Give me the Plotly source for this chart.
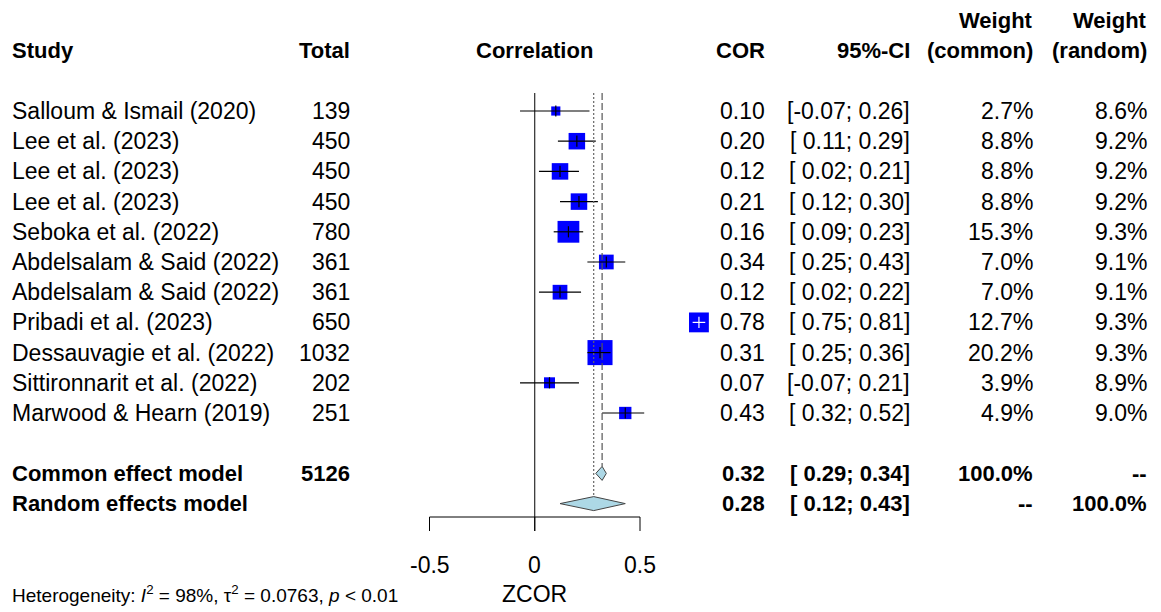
import plotly.graph_objects as go
import math

# ---------------- data ----------------
studies = ["Salloum & Ismail (2020)", "Lee et al. (2023)", "Lee et al. (2023)", "Lee et al. (2023)",
           "Seboka et al. (2022)", "Abdelsalam & Said (2022)", "Abdelsalam & Said (2022)",
           "Pribadi et al. (2023)", "Dessauvagie et al. (2022)", "Sittironnarit et al. (2022)",
           "Marwood & Hearn (2019)"]
totals = [139, 450, 450, 450, 780, 361, 361, 650, 1032, 202, 251]
cor = [0.10, 0.20, 0.12, 0.21, 0.16, 0.34, 0.12, 0.78, 0.31, 0.07, 0.43]
ci_lo = [-0.07, 0.11, 0.02, 0.12, 0.09, 0.25, 0.02, 0.75, 0.25, -0.07, 0.32]
ci_hi = [0.26, 0.29, 0.21, 0.30, 0.23, 0.43, 0.22, 0.81, 0.36, 0.21, 0.52]
w_common = [2.7, 8.8, 8.8, 8.8, 15.3, 7.0, 7.0, 12.7, 20.2, 3.9, 4.9]
w_random = [8.6, 9.2, 9.2, 9.2, 9.3, 9.1, 9.1, 9.3, 9.3, 8.9, 9.0]

common_est, common_lo, common_hi = 0.32, 0.29, 0.34
random_est, random_lo, random_hi = 0.28, 0.12, 0.43
total_n = 5126
tick_vals = [-0.5, 0, 0.5]
tick_text = ["-0.5", "0", "0.5"]

# ---------------- layout constants ----------------
W, H = 1161, 612
X0_PX, SCALE = 534.75, 210.5          # pixel of x=0, pixels per unit
XMIN = -X0_PX / SCALE
XMAX = (W - X0_PX) / SCALE
ROW0, ROWH = 111, 30.2
def row_y(i):
    return ROW0 + ROWH * i
Y_COMMON = row_y(12)
Y_RANDOM = row_y(13)
Y_AXIS = 517
Y_TICK = 531
TOP = 93
FONT = "Liberation Sans, Arial, sans-serif"
FS = 23
FSB = 22
BLUE = "#0000FF"

fig = go.Figure()
shapes = []
ann = []

def text(xpx, y, s, anchor="left", bold=False, size=None):
    if size is None:
        size = FSB if bold else FS
    if bold:
        s = "<b>" + s + "</b>"
    ann.append(dict(x=xpx / W, xref="paper", y=y, yref="y", text=s, showarrow=False,
                    xanchor=anchor, yanchor="middle",
                    font=dict(family=FONT, size=size, color="black")))

# reference lines
shapes.append(dict(type="line", x0=0, x1=0, y0=TOP, y1=Y_TICK, xref="x", yref="y",
                   line=dict(color="black", width=1)))
shapes.append(dict(type="line", x0=common_est, x1=common_est, y0=TOP, y1=Y_COMMON - 7,
                   xref="x", yref="y", line=dict(color="#555555", width=1.2, dash="7px,3px")))
shapes.append(dict(type="line", x0=random_est, x1=random_est, y0=TOP, y1=Y_RANDOM - 7,
                   xref="x", yref="y", line=dict(color="#666666", width=1.2, dash="2px,2px")))
# axis
shapes.append(dict(type="line", x0=tick_vals[0], x1=tick_vals[-1], y0=Y_AXIS, y1=Y_AXIS,
                   xref="x", yref="y", line=dict(color="black", width=1)))
for tv, tt in zip(tick_vals, tick_text):
    shapes.append(dict(type="line", x0=tv, x1=tv, y0=Y_AXIS, y1=Y_TICK, xref="x", yref="y",
                       line=dict(color="black", width=1)))
    text(X0_PX + tv * SCALE, 565, tt, anchor="center")
text(X0_PX, 594, "ZCOR", anchor="center")

# squares
ys = [row_y(i) for i in range(len(studies))]
sizes = [5.57 * math.sqrt(w) for w in w_common]
fig.add_trace(go.Scatter(x=cor, y=ys, mode="markers",
                         marker=dict(symbol="square", size=sizes, color=BLUE, opacity=1,
                                     line=dict(width=0)),
                         hoverinfo="skip", showlegend=False))
# CI lines
for i in range(len(studies)):
    col = "white" if cor[i] > tick_vals[-1] else "black"
    fig.add_trace(go.Scatter(x=[ci_lo[i], ci_hi[i]], y=[ys[i], ys[i]], mode="lines",
                             line=dict(color=col, width=1.2), hoverinfo="skip", showlegend=False))
    fig.add_trace(go.Scatter(x=[cor[i]], y=[ys[i]], mode="markers",
                             marker=dict(symbol="line-ns", size=8, opacity=1,
                                         line=dict(color=col, width=1.2)),
                             hoverinfo="skip", showlegend=False))

# diamonds
for est, lo, hi, yy in [(common_est, common_lo, common_hi, Y_COMMON),
                        (random_est, random_lo, random_hi, Y_RANDOM)]:
    fig.add_trace(go.Scatter(x=[lo, est, hi, est, lo], y=[yy, yy - 7, yy, yy + 7, yy],
                             mode="lines", fill="toself", fillcolor="#ADD8E6",
                             line=dict(color="#444444", width=1), hoverinfo="skip",
                             showlegend=False))

# headers
COL_STUDY, COL_TOTAL, COL_COR, COL_CI, COL_WC, COL_WR = 10, 352, 767, 912, 1035, 1149
HY, HY2 = 50, 20
text(COL_STUDY, HY, "Study", bold=True)
text(COL_TOTAL, HY, "Total", "right", bold=True)
text(X0_PX, HY, "Correlation", "center", bold=True)
text(COL_COR, HY, "COR", "right", bold=True)
text(COL_CI, HY, "95%-CI", "right", bold=True)
text(COL_WC, HY2, "Weight", "right", bold=True)
text(COL_WC, HY, "(common)", "right", bold=True)
text(COL_WR, HY2, "Weight", "right", bold=True)
text(COL_WR, HY, "(random)", "right", bold=True)

def ci_str(lo, hi):
    return "[" + f"{lo:5.2f}" + "; " + f"{hi:.2f}" + "]"

for i, s in enumerate(studies):
    y = ys[i]
    text(COL_STUDY, y, s)
    text(COL_TOTAL, y, str(totals[i]), "right")
    text(COL_COR, y, f"{cor[i]:.2f}", "right")
    text(COL_CI, y, ci_str(ci_lo[i], ci_hi[i]), "right")
    text(COL_WC, y, f"{w_common[i]:.1f}%", "right")
    text(COL_WR, y, f"{w_random[i]:.1f}%", "right")

text(COL_STUDY, Y_COMMON, "Common effect model", bold=True)
text(COL_TOTAL, Y_COMMON, str(total_n), "right", bold=True)
text(COL_COR, Y_COMMON, f"{common_est:.2f}", "right", bold=True)
text(COL_CI, Y_COMMON, ci_str(common_lo, common_hi), "right", bold=True)
text(COL_WC, Y_COMMON, "100.0%", "right", bold=True)
text(COL_WR, Y_COMMON, "--", "right", bold=True)

text(COL_STUDY, Y_RANDOM, "Random effects model", bold=True)
text(COL_COR, Y_RANDOM, f"{random_est:.2f}", "right", bold=True)
text(COL_CI, Y_RANDOM, ci_str(random_lo, random_hi), "right", bold=True)
text(COL_WC, Y_RANDOM, "--", "right", bold=True)
text(COL_WR, Y_RANDOM, "100.0%", "right", bold=True)

text(COL_STUDY, 594, "Heterogeneity: <i>I</i><sup>2</sup> = 98%, τ<sup>2</sup> = 0.0763, <i>p</i> &lt; 0.01",
     size=19)

fig.update_layout(
    width=W, height=H, margin=dict(l=0, r=0, t=0, b=0),
    paper_bgcolor="white", plot_bgcolor="white",
    xaxis=dict(range=[XMIN, XMAX], visible=False, fixedrange=True),
    yaxis=dict(range=[H, 0], visible=False, fixedrange=True),
    shapes=shapes, annotations=ann, showlegend=False, hovermode=False,
)
fig.write_html("out.html", config={"displayModeBar": False, "staticPlot": True})

# remove default page margin so the figure sits at the window's top-left corner
with open("out.html", "r", encoding="utf-8") as f:
    html = f.read()
html = html.replace("<body>", '<body style="margin:0;padding:0;overflow:hidden">', 1)
with open("out.html", "w", encoding="utf-8") as f:
    f.write(html)
